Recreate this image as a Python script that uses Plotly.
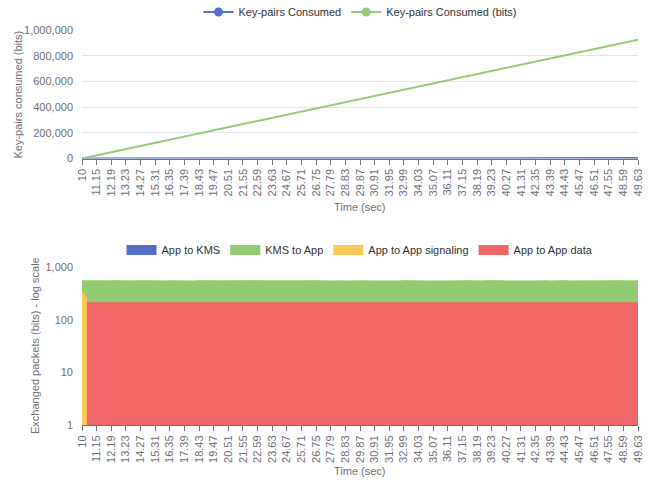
import plotly.graph_objects as go

# ---------------- data ----------------
time_labels = ["10", "11.15", "12.19", "13.23", "14.27", "15.31", "16.35", "17.39", "18.43",
               "19.47", "20.51", "21.55", "22.59", "23.63", "24.67", "25.71", "26.75", "27.79",
               "28.83", "29.87", "30.91", "31.95", "32.99", "34.03", "35.07", "36.11", "37.15",
               "38.19", "39.23", "40.27", "41.31", "42.35", "43.39", "44.43", "45.47", "46.51",
               "47.55", "48.59", "49.63"]

keypairs_bits = [0, 24300, 48700, 73000, 97400, 121700, 146000, 170400, 194700, 219100,
                 243400, 267800, 292100, 316400, 340800, 365100, 389500, 413800, 438200, 462500,
                 486800, 511200, 535500, 559900, 584200, 608600, 632900, 657200, 681600, 705900,
                 730300, 754600, 779000, 803300, 827600, 852000, 876300, 900700, 925000]

keypairs_count = [0, 95, 190, 285, 380, 475, 570, 666, 761, 856, 951, 1046, 1141, 1236, 1331,
                  1426, 1521, 1616, 1712, 1807, 1902, 1997, 2092, 2187, 2282, 2377, 2472, 2567,
                  2663, 2758, 2853, 2948, 3043, 3138, 3233, 3328, 3423, 3518, 3613]

# bottom chart: samples every third of a label interval
samples_per_label = 3

app_to_kms = [276, 275, 277, 276, 274, 276, 275, 277, 276, 275, 276, 274, 277, 276, 275, 276,
              277, 275, 276, 274, 276, 275, 277, 276, 275, 276, 274, 277, 276, 275, 276, 277,
              275, 276, 274, 276, 275, 277, 276]

kms_to_app = [553, 550, 556, 551, 548, 554, 552, 557, 549, 553,
              551, 555, 548, 552, 556, 550, 553, 549, 554, 551,
              557, 550, 552, 548, 555, 551, 553, 556, 549, 552,
              554, 550, 548, 553, 557, 551, 549, 555, 552, 550,
              553, 548, 556, 551, 554, 549, 552, 557, 550, 553,
              551, 548, 555, 552, 549, 554, 550, 556, 553, 551,
              548, 552, 555, 550, 553, 549, 557, 551, 554, 552,
              550, 548, 553, 556, 551, 549, 554, 552, 550, 555,
              553, 548, 551, 557, 550, 552, 554, 549, 553, 556,
              551, 550, 548, 555, 552, 553, 549, 554, 551, 557,
              550, 552, 548, 553, 556, 551, 549, 554, 552, 550,
              553, 555, 551, 549, 552]

app_signaling = [352, 248]

app_data = [None,
            211, 211, 210, 211, 212, 211, 211, 210, 211, 211, 212, 211, 211, 210, 211, 211, 212, 211, 211,
            211, 210, 211, 211, 212, 211, 211, 210, 211, 211, 212, 211, 211, 210, 211, 211, 212, 211, 211,
            211, 211, 210, 211, 212, 211, 211, 210, 211, 211, 212, 211, 211, 210, 211, 211, 212, 211, 211,
            211, 210, 211, 211, 212, 211, 211, 210, 211, 211, 212, 211, 211, 210, 211, 211, 212, 211, 211,
            211, 211, 210, 211, 212, 211, 211, 210, 211, 211, 212, 211, 211, 210, 211, 211, 212, 211, 211,
            211, 210, 211, 211, 212, 211, 211, 210, 211, 211, 212, 211, 211, 210, 211, 211, 212, 211, 211]

# ---------------- figure ----------------
BLUE, GREEN, YELLOW, RED = "#5470c6", "#91cc75", "#fac858", "#ee6666"
AXIS_GRAY = "#6e7079"
GRID = "#e0e6f1"
FONT = "Liberation Sans, Arial, Helvetica, sans-serif"
FS = 11

label_pos = list(range(len(time_labels)))


def sample_x(n):
    return [k / samples_per_label for k in range(n)]


fig = go.Figure()

# top chart lines
fig.add_trace(go.Scatter(x=label_pos, y=keypairs_count, mode="lines", line=dict(color=BLUE, width=2),
                         showlegend=False, xaxis="x", yaxis="y"))
fig.add_trace(go.Scatter(x=label_pos, y=keypairs_bits, mode="lines", line=dict(color=GREEN, width=2),
                         showlegend=False, xaxis="x", yaxis="y"))
# legend entries with line + circle icon
fig.add_trace(go.Scatter(x=[None], y=[None], mode="lines+markers", name="Key-pairs Consumed",
                         line=dict(color=BLUE, width=2), marker=dict(color=BLUE, size=9),
                         xaxis="x", yaxis="y", legend="legend"))
fig.add_trace(go.Scatter(x=[None], y=[None], mode="lines+markers", name="Key-pairs Consumed (bits)",
                         line=dict(color=GREEN, width=2), marker=dict(color=GREEN, size=9),
                         xaxis="x", yaxis="y", legend="legend"))

# bottom chart areas
area_series = [
    ("App to KMS", label_pos, app_to_kms, BLUE),
    ("KMS to App", sample_x(len(kms_to_app)), kms_to_app, GREEN),
    ("App to App signaling", sample_x(len(app_signaling)), app_signaling, YELLOW),
    ("App to App data", sample_x(len(app_data)), app_data, RED),
]
for name, xs, ys, col in area_series:
    fig.add_trace(go.Scatter(x=xs, y=ys, mode="lines", name=name, showlegend=False,
                             line=dict(color=col, width=1), fill="tozeroy", fillcolor=col,
                             xaxis="x2", yaxis="y2"))
for name, xs, ys, col in area_series:
    fig.add_trace(go.Scatter(x=[None], y=[None], mode="lines", name=name,
                             line=dict(color=col, width=12), xaxis="x2", yaxis="y2", legend="legend2"))

H = 480.0
W = 556.0

tick_font = dict(size=FS, color=AXIS_GRAY, family=FONT)

xaxis_common = dict(
    range=[0, len(time_labels) - 1], tickmode="array", tickvals=label_pos, ticktext=time_labels,
    tickangle=-90, ticks="outside", ticklen=5, tickcolor=AXIS_GRAY, showline=True, linecolor=AXIS_GRAY,
    linewidth=1, showgrid=False, zeroline=False, tickfont=tick_font,
    ticklabeloverflow="allow", automargin=False, fixedrange=True,
)

fig.update_layout(
    width=649, height=480,
    margin=dict(l=82, r=11, t=0, b=0, autoexpand=False),
    paper_bgcolor="white", plot_bgcolor="white",
    font=dict(family=FONT, size=FS, color="#333"),
    xaxis=dict(domain=[0, 1], anchor="y", **xaxis_common),
    yaxis=dict(domain=[1 - 158.5 / H, 1 - 30 / H], range=[0, 1000000], dtick=200000, tickformat=",",
               showgrid=True, gridcolor=GRID, zeroline=False, showline=False, ticks="", automargin=False,
               ticklabelstandoff=8, tickfont=tick_font, fixedrange=True),
    xaxis2=dict(domain=[0, 1], anchor="y2", **xaxis_common),
    yaxis2=dict(domain=[1 - 425 / H, 1 - 267.3 / H], type="log", range=[0, 3], dtick=1, tickformat=",",
                showgrid=True, gridcolor=GRID, zeroline=False, showline=False, ticks="", automargin=False,
                ticklabelstandoff=8, tickfont=tick_font, fixedrange=True),
    legend=dict(orientation="h", x=0.5, xanchor="center", y=1 - 12 / H, yanchor="middle",
                font=dict(size=FS, color="#333", family=FONT), itemwidth=30, bgcolor="rgba(0,0,0,0)"),
    legend2=dict(orientation="h", x=0.5, xanchor="center", y=1 - 250 / H, yanchor="middle",
                 font=dict(size=FS, color="#333", family=FONT), itemwidth=30, bgcolor="rgba(0,0,0,0)"),
    annotations=[
        dict(text="Time (sec)", xref="paper", yref="paper", x=0.5, y=1 - 207 / H, showarrow=False,
             xanchor="center", yanchor="middle", font=dict(size=FS, color=AXIS_GRAY, family=FONT)),
        dict(text="Time (sec)", xref="paper", yref="paper", x=0.5, y=1 - 471 / H, showarrow=False,
             xanchor="center", yanchor="middle", font=dict(size=FS, color=AXIS_GRAY, family=FONT)),
        dict(text="Key-pairs consumed (bits)", xref="paper", yref="paper", x=(17 - 82) / W,
             y=1 - 94.5 / H, showarrow=False, textangle=-90, xanchor="center", yanchor="middle",
             font=dict(size=FS, color=AXIS_GRAY, family=FONT)),
        dict(text="Exchanged packets (bits) - log scale", xref="paper", yref="paper", x=(35 - 82) / W,
             y=1 - 346 / H, showarrow=False, textangle=-90, xanchor="center", yanchor="middle",
             font=dict(size=FS, color=AXIS_GRAY, family=FONT)),
    ],
)

fig.write_html("out.html", config={"displayModeBar": False},
               post_script="document.body.style.margin='0px';")
